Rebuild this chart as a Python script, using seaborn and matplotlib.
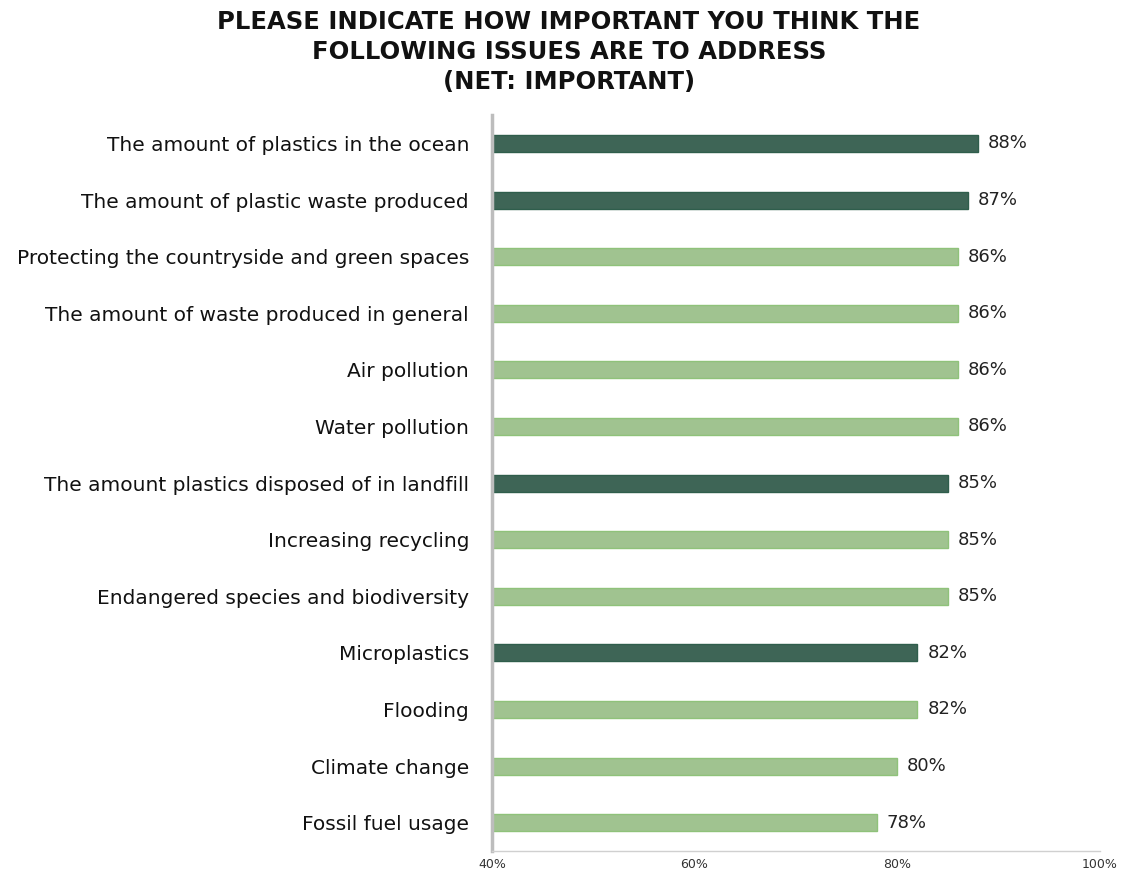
import matplotlib
matplotlib.use("Agg")
import matplotlib.pyplot as plt
import seaborn as sns
import pandas as pd

issues = [
    "The amount of plastics in the ocean",
    "The amount of plastic waste produced",
    "Protecting the countryside and green spaces",
    "The amount of waste produced in general",
    "Air pollution",
    "Water pollution",
    "The amount plastics disposed of in landfill",
    "Increasing recycling",
    "Endangered species and biodiversity",
    "Microplastics",
    "Flooding",
    "Climate change",
    "Fossil fuel usage",
]
net_important = [88, 87, 86, 86, 86, 86, 85, 85, 85, 82, 82, 80, 78]
plastic_issue = [True, True, False, False, False, False, True, False, False, True, False, False, False]
x_ticks = [40, 60, 80, 100]
x_tick_labels = ["40%", "60%", "80%", "100%"]

dark_green = "#386b58"
light_green = "#9dcb87"

df = pd.DataFrame({
    "issue": issues,
    "value": net_important,
    "group": ["Plastics" if p else "Other" for p in plastic_issue],
})

sns.set_theme(style="white")
plt.rcParams["font.family"] = ["DejaVu Sans"]

fig = plt.figure(figsize=(11.22, 8.74), dpi=100)
ax = fig.add_axes([0.4385, 0.0263, 0.5415, 0.842])

sns.barplot(
    data=df, x="value", y="issue", hue="group",
    palette={"Plastics": dark_green, "Other": light_green},
    dodge=False, width=0.3, orient="h", legend=False, ax=ax,
    linewidth=1.0,
)
for patch in ax.patches:
    fc = patch.get_facecolor()
    patch.set_edgecolor("#2f5e4c" if fc[1] < 0.6 else "#8fc27a")

for i, v in enumerate(net_important):
    ax.text(v + 1.0, i, f"{v}%", va="center", ha="left", fontsize=13, color="#222222")

ax.set_xlim(40, 100)
ax.set_ylim(len(issues) - 0.5, -0.5)
ax.set_xticks(x_ticks)
ax.set_xticklabels(x_tick_labels, fontsize=9, color="#333333")
ax.set_xlabel("")
ax.set_ylabel("")
ax.tick_params(axis="y", labelsize=14.5, length=0, pad=16.5, colors="#111111")
ax.tick_params(axis="x", direction="in", length=6, width=1, color="#c8c8c8", pad=5)

for side in ["top", "right"]:
    ax.spines[side].set_visible(False)
ax.spines["left"].set_color("#bdbdbd")
ax.spines["left"].set_linewidth(2.5)
ax.spines["bottom"].set_color("#d0d0d0")
ax.spines["bottom"].set_linewidth(1)

fig.text(0.507, 0.988, "PLEASE INDICATE HOW IMPORTANT YOU THINK THE\nFOLLOWING ISSUES ARE TO ADDRESS\n(NET: IMPORTANT)",
         ha="center", va="top", fontsize=17.5, fontweight="bold", linespacing=1.3,
         color="#111111")

fig.savefig("out.png", dpi=100)
